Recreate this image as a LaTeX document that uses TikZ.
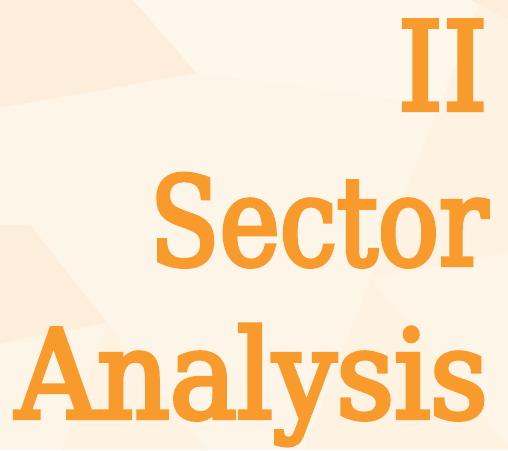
\documentclass[tikz,border=0pt]{standalone}
\usepackage{fontspec}
\usepackage{graphicx}
\newfontfamily\titlefont[FakeBold=3.6]{DejaVu Serif Condensed}
\definecolor{bgbase}{HTML}{FEF5E9}
\definecolor{bgdark}{HTML}{FDEEDC}
\definecolor{bgmid}{HTML}{FEF2E3}
\definecolor{bglight}{HTML}{FEF7EC}
\definecolor{titleorange}{HTML}{F89A2C}
\tikzset{
  title/.style={anchor=base east, inner sep=0pt, text=titleorange, font=\titlefont\fontsize{123}{123}\selectfont},
}
\begin{document}
\begin{tikzpicture}[x=1pt,y=-1pt]
\useasboundingbox (0,0) rectangle (508,450);
\fill[bgbase] (0,0) rectangle (508,450);
% background facets
\fill[bgdark] (0,0) -- (133,0) -- (197,73) -- (0,108) -- cycle;
\fill[bglight] (133,0) -- (223,0) -- (197,73) -- cycle;
\fill[bglight] (223,0) -- (481,0) -- (440,105) -- (197,73) -- cycle;
\fill[bgmid] (481,0) -- (508,0) -- (508,253) -- (371,278) -- cycle;
\fill[bgdark] (470,0) -- (508,0) -- (508,20) -- cycle;
\fill[bgdark] (0,225) -- (30,225) -- (107,323) -- (0,343) -- cycle;
\fill[bgmid] (107,323) -- (207,450) -- (62,450) -- cycle;
\fill[bgmid] (371,278) -- (508,445) -- (508,450) -- (304,450) -- cycle;
% titles
\node[title] (ii) at (488,110) {\resizebox{90pt}{\height}{II}};
\node[title] (sector) at (488,265) {\resizebox{338pt}{\height}{Sector}};
\node[title] (analysis) at (488,418) {\resizebox{472pt}{\height}{Analysis}};
\end{tikzpicture}
\end{document}
